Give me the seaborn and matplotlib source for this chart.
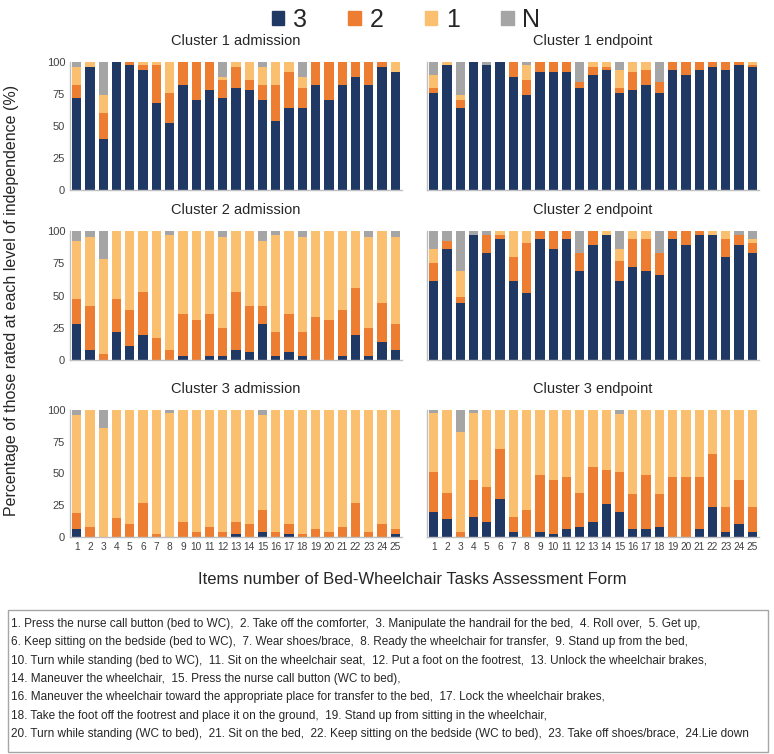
import matplotlib
matplotlib.use("Agg")
import matplotlib.pyplot as plt
import matplotlib.patches as mpatches
import seaborn as sns
import pandas as pd

items = [str(i) for i in range(1, 26)]

# Cluster 1 admission
c1_adm_3 = [72, 96, 40, 100, 98, 94, 68, 52, 82, 70, 78, 72, 80, 78, 70, 54, 64, 64, 82, 70, 82, 88, 82, 96, 92]
c1_adm_2 = [10, 0, 20, 0, 2, 4, 30, 24, 18, 30, 22, 14, 16, 8, 12, 28, 28, 16, 18, 30, 18, 12, 18, 4, 0]
c1_adm_1 = [14, 4, 14, 0, 0, 2, 2, 24, 0, 0, 0, 2, 4, 14, 14, 18, 8, 8, 0, 0, 0, 0, 0, 0, 8]
c1_adm_N = [4, 0, 26, 0, 0, 0, 0, 0, 0, 0, 0, 12, 0, 0, 4, 0, 0, 12, 0, 0, 0, 0, 0, 0, 0]

# Cluster 1 endpoint
c1_end_3 = [76, 98, 64, 100, 98, 100, 88, 74, 92, 92, 92, 80, 90, 94, 76, 78, 82, 76, 94, 90, 94, 96, 94, 98, 96]
c1_end_2 = [4, 0, 6, 0, 0, 0, 12, 12, 8, 8, 8, 4, 6, 2, 4, 14, 12, 8, 6, 10, 6, 4, 6, 2, 2]
c1_end_1 = [10, 2, 4, 0, 0, 0, 0, 12, 0, 0, 0, 0, 4, 4, 14, 8, 6, 0, 0, 0, 0, 0, 0, 0, 2]
c1_end_N = [10, 0, 26, 0, 2, 0, 0, 2, 0, 0, 0, 16, 0, 0, 6, 0, 0, 16, 0, 0, 0, 0, 0, 0, 0]

# Cluster 2 admission
c2_adm_3 = [28, 8, 0, 22, 11, 19, 0, 0, 3, 0, 3, 3, 8, 6, 28, 3, 6, 3, 0, 0, 3, 19, 3, 14, 8]
c2_adm_2 = [19, 34, 5, 25, 28, 34, 17, 8, 33, 31, 33, 22, 45, 36, 14, 19, 30, 19, 33, 31, 36, 37, 22, 30, 20]
c2_adm_1 = [45, 53, 73, 53, 61, 47, 83, 89, 64, 69, 64, 70, 47, 58, 50, 75, 64, 73, 67, 69, 61, 44, 70, 56, 67]
c2_adm_N = [8, 5, 22, 0, 0, 0, 0, 3, 0, 0, 0, 5, 0, 0, 8, 3, 0, 5, 0, 0, 0, 0, 5, 0, 5]

# Cluster 2 endpoint
c2_end_3 = [61, 86, 44, 97, 83, 94, 61, 52, 94, 86, 94, 69, 89, 97, 61, 72, 69, 66, 94, 89, 97, 97, 80, 89, 83]
c2_end_2 = [14, 6, 5, 0, 14, 3, 19, 39, 6, 14, 6, 14, 11, 0, 16, 22, 25, 17, 6, 11, 3, 0, 14, 8, 8]
c2_end_1 = [11, 0, 20, 0, 0, 3, 20, 9, 0, 0, 0, 0, 0, 3, 9, 6, 6, 0, 0, 0, 0, 3, 6, 0, 3]
c2_end_N = [14, 8, 31, 3, 3, 0, 0, 0, 0, 0, 0, 17, 0, 0, 14, 0, 0, 17, 0, 0, 0, 0, 0, 3, 6]

# Cluster 3 admission
c3_adm_3 = [6, 0, 0, 0, 0, 0, 0, 0, 0, 0, 0, 0, 2, 0, 4, 0, 2, 0, 0, 0, 0, 0, 0, 0, 2]
c3_adm_2 = [13, 8, 0, 15, 10, 27, 2, 0, 12, 4, 8, 4, 10, 10, 17, 4, 8, 2, 6, 4, 8, 27, 4, 10, 4]
c3_adm_1 = [77, 92, 86, 85, 90, 73, 98, 98, 88, 96, 92, 96, 88, 90, 75, 96, 90, 98, 94, 96, 92, 73, 96, 90, 94]
c3_adm_N = [4, 0, 14, 0, 0, 0, 0, 2, 0, 0, 0, 0, 0, 0, 4, 0, 0, 0, 0, 0, 0, 0, 0, 0, 0]

# Cluster 3 endpoint
c3_end_3 = [20, 14, 0, 16, 12, 30, 4, 0, 4, 2, 6, 8, 12, 26, 20, 6, 6, 8, 0, 0, 6, 24, 4, 10, 4]
c3_end_2 = [31, 21, 4, 29, 27, 39, 12, 21, 45, 43, 41, 27, 43, 27, 31, 28, 43, 26, 47, 47, 41, 41, 20, 35, 20]
c3_end_1 = [47, 65, 79, 53, 61, 31, 84, 79, 51, 55, 53, 65, 45, 47, 46, 66, 51, 66, 53, 53, 53, 35, 76, 55, 76]
c3_end_N = [2, 0, 17, 2, 0, 0, 0, 0, 0, 0, 0, 0, 0, 0, 3, 0, 0, 0, 0, 0, 0, 0, 0, 0, 0]

panel_titles = ["Cluster 1 admission", "Cluster 1 endpoint",
                "Cluster 2 admission", "Cluster 2 endpoint",
                "Cluster 3 admission", "Cluster 3 endpoint"]
panel_data = [
    (c1_adm_3, c1_adm_2, c1_adm_1, c1_adm_N), (c1_end_3, c1_end_2, c1_end_1, c1_end_N),
    (c2_adm_3, c2_adm_2, c2_adm_1, c2_adm_N), (c2_end_3, c2_end_2, c2_end_1, c2_end_N),
    (c3_adm_3, c3_adm_2, c3_adm_1, c3_adm_N), (c3_end_3, c3_end_2, c3_end_1, c3_end_N),
]

levels = ["3", "2", "1", "N"]
colors = {"3": "#203864", "2": "#ED7D31", "1": "#FBC06F", "N": "#A5A5A5"}

item_notes = (
    "1. Press the nurse call button (bed to WC),  2. Take off the comforter,  3. Manipulate the handrail for the bed,  4. Roll over,  5. Get up,\n"
    "6. Keep sitting on the bedside (bed to WC),  7. Wear shoes/brace,  8. Ready the wheelchair for transfer,  9. Stand up from the bed,\n"
    "10. Turn while standing (bed to WC),  11. Sit on the wheelchair seat,  12. Put a foot on the footrest,  13. Unlock the wheelchair brakes,\n"
    "14. Maneuver the wheelchair,  15. Press the nurse call button (WC to bed),\n"
    "16. Maneuver the wheelchair toward the appropriate place for transfer to the bed,  17. Lock the wheelchair brakes,\n"
    "18. Take the foot off the footrest and place it on the ground,  19. Stand up from sitting in the wheelchair,\n"
    "20. Turn while standing (WC to bed),  21. Sit on the bed,  22. Keep sitting on the bedside (WC to bed),  23. Take off shoes/brace,  24.Lie down"
)

sns.set_style("white")
plt.rcParams["font.family"] = ["Liberation Sans", "DejaVu Sans"]

W, H = 774, 754
fig = plt.figure(figsize=(W / 100, H / 100), dpi=100)

col_x = [70, 427]
row_y = [(62, 190), (231, 360), (410, 537)]
ax_w = 332

for k, (title, vals) in enumerate(zip(panel_titles, panel_data)):
    r, c = divmod(k, 2)
    top, bottom = row_y[r]
    ax = fig.add_axes([col_x[c] / W, 1 - bottom / H, ax_w / W, (bottom - top) / H])
    df = pd.DataFrame({lv: v for lv, v in zip(levels, vals)}, index=items)
    cum = df.cumsum(axis=1)
    # cumulative totals drawn back to front so the stack reads 3 / 2 / 1 / N
    for lv in reversed(levels):
        sns.barplot(x=items, y=cum[lv].values, color=colors[lv], width=0.7,
                    saturation=1, ax=ax, linewidth=0)
    ax.set_ylim(0, 100)
    ax.set_xlim(-0.5, 24.5)
    ax.set_yticks([0, 25, 50, 75, 100])
    ax.set_title(title, fontsize=10.5, pad=12, color="#262626")
    ax.tick_params(axis="y", length=0, labelsize=8, colors="#404040")
    ax.tick_params(axis="x", length=0, labelsize=7.3, colors="#404040")
    if c == 1:
        ax.set_yticklabels([])
    if r < 2:
        ax.set_xticklabels([])
    for s in ["top", "right"]:
        ax.spines[s].set_visible(False)
    for s in ["left", "bottom"]:
        ax.spines[s].set_color("#BFBFBF")
        ax.spines[s].set_linewidth(1)

handles = [mpatches.Patch(color=colors[lv], label=lv) for lv in levels]
fig.legend(handles=handles, loc="center", bbox_to_anchor=(406 / W, 1 - 20 / H), ncol=4,
           frameon=False, fontsize=18, handlelength=0.5, handleheight=0.5,
           handletextpad=0.35, columnspacing=1.65)

fig.text(12 / W, 1 - 300 / H, "Percentage of those rated at each level of independence (%)",
         rotation=90, ha="center", va="center", fontsize=11.5, color="#262626")
fig.text(412 / W, 1 - 580 / H, "Items number of Bed-Wheelchair Tasks Assessment Form",
         ha="center", va="center", fontsize=12, color="#262626")

fig.patches.append(mpatches.Rectangle((8 / W, 1 - 752 / H), 760 / W, 142 / H,
                                      transform=fig.transFigure, fill=False,
                                      edgecolor="#A6A6A6", linewidth=1))
fig.text(11 / W, 1 - 679 / H, item_notes, ha="left", va="center", fontsize=8.5,
         linespacing=1.7, color="#262626")

fig.savefig("out.png", dpi=100)
